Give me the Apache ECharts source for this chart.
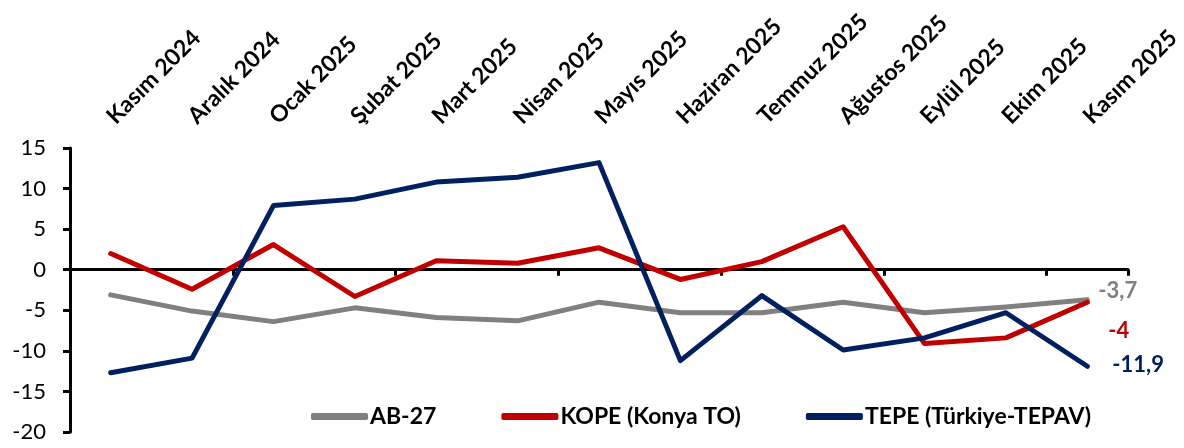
<!DOCTYPE html>
<html>
<head>
<meta charset="utf-8">
<script src="https://cdn.jsdelivr.net/npm/echarts@6/dist/echarts.min.js"></script>
<style>html,body{margin:0;padding:0;background:#fff;}#c{width:1184px;height:448px;}</style>
</head>
<body>
<div id="c"></div>
<script>
const categories = ['Kasım 2024','Aralık 2024','Ocak 2025','Şubat 2025','Mart 2025','Nisan 2025','Mayıs 2025','Haziran 2025','Temmuz 2025','Ağustos 2025','Eylül 2025','Ekim 2025','Kasım 2025'];
const ab27 = [-3.1, -5.1, -6.4, -4.7, -5.9, -6.3, -4.0, -5.3, -5.3, -4.0, -5.3, -4.6, -3.7];
const kope = [2.0, -2.4, 3.1, -3.3, 1.1, 0.8, 2.7, -1.2, 1.0, 5.3, -9.1, -8.4, -4];
const tepe = [-12.7, -10.9, 7.9, 8.7, 10.8, 11.4, 13.2, -11.2, -3.2, -9.9, -8.4, -5.3, -11.9];
const yTicks = [-20, -15, -10, -5, 0, 5, 10, 15];

const FONT = 'Lato';
function endLabel(color, offset) {
  return {
    show: true, distance: 0, offset: offset,
    color: color, fontFamily: FONT, fontWeight: 'bold', fontSize: 22,
    formatter: p => String(p.value).replace('.', ',')
  };
}

const chart = echarts.init(document.getElementById('c'), null, {renderer: 'canvas'});
chart.setOption({
  animation: false,
  grid: {left: 70, right: 56, top: 148, bottom: 16, containLabel: false},
  legend: {
    left: 306, top: 400,
    icon: 'roundRect', itemWidth: 57, itemHeight: 7, itemGap: 65,
    textStyle: {fontFamily: FONT, fontWeight: 'bold', fontSize: 23, color: '#000', padding: [0, 0, 0, -3]},
    data: ['AB-27', 'KOPE (Konya TO)', 'TEPE (Türkiye-TEPAV)']
  },
  xAxis: [{
    type: 'category', data: categories, boundaryGap: true, position: 'bottom',
    axisLine: {onZero: true, lineStyle: {color: '#000', width: 3}},
    axisTick: {show: true, length: 6, lineStyle: {color: '#000', width: 3}},
    axisLabel: {show: false}, splitLine: {show: false}
  }, {
    type: 'category', data: categories, boundaryGap: true, position: 'top',
    axisLine: {show: false}, axisTick: {show: false},
    axisLabel: {show: true, rotate: -45, margin: 28, interval: 0,
      fontFamily: FONT, fontWeight: 'bold', fontSize: 23, color: '#000'},
    splitLine: {show: false}
  }],
  yAxis: {
    type: 'value', min: yTicks[0], max: yTicks[yTicks.length - 1], interval: 5,
    axisLine: {show: true, lineStyle: {color: '#000', width: 3}},
    axisTick: {show: true, length: 7, lineStyle: {color: '#000', width: 3}},
    axisLabel: {fontFamily: FONT, fontSize: 22, color: '#000', margin: 24},
    splitLine: {show: false}
  },
  series: [{
    name: 'AB-27', type: 'line', data: ab27,
    symbol: 'none', color: '#808080',
    lineStyle: {width: 5, color: '#808080', cap: 'round', join: 'round'},
    endLabel: endLabel('#808080', [11, -9])
  }, {
    name: 'KOPE (Konya TO)', type: 'line', data: kope,
    symbol: 'none', color: '#C00000',
    lineStyle: {width: 5, color: '#C00000', cap: 'round', join: 'round'},
    endLabel: endLabel('#C00000', [21, 29])
  }, {
    name: 'TEPE (Türkiye-TEPAV)', type: 'line', data: tepe,
    symbol: 'none', color: '#002060',
    lineStyle: {width: 5, color: '#002060', cap: 'round', join: 'round'},
    endLabel: endLabel('#002060', [25, -1])
  }]
});
</script>
</body>
</html>
